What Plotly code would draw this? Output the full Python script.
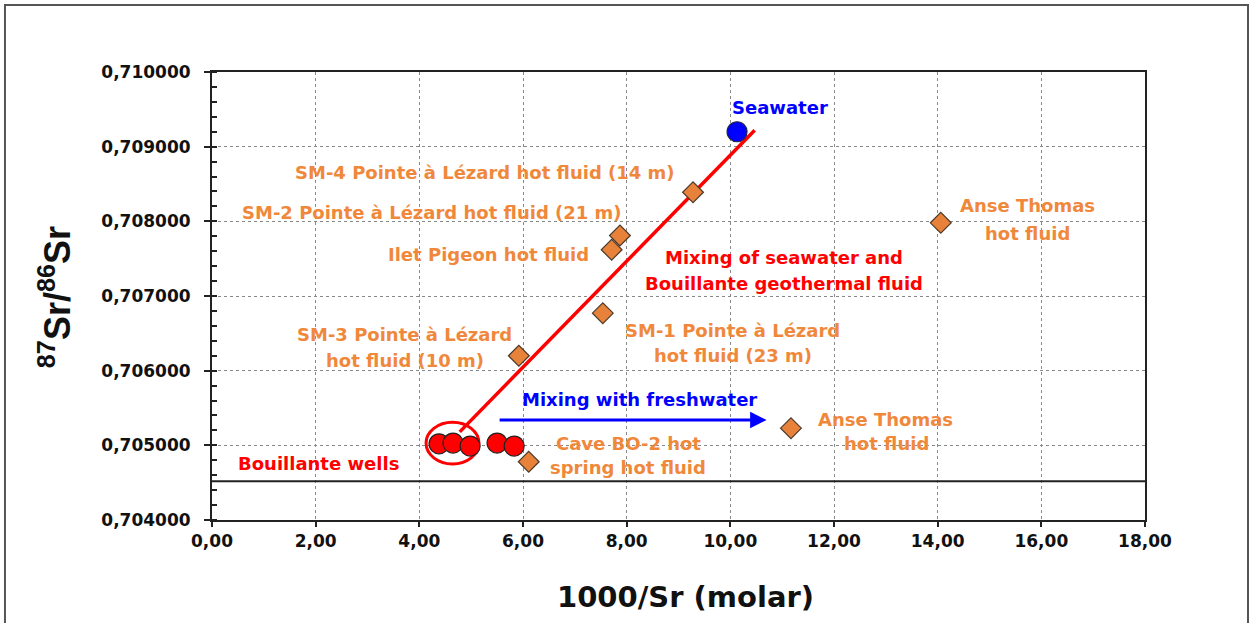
import plotly.graph_objects as go

# Bouillante geothermal wells
wells_x = [4.38, 4.65, 4.98, 5.50, 5.83]
wells_y = [0.70502, 0.70503, 0.70499, 0.70503, 0.70499]

# Seawater end-member
sea_x = [10.13]
sea_y = [0.70920]

# Hot springs / hot fluids
fluid_names = [
    "SM-4 Pointe à Lézard hot fluid (14 m)",
    "SM-2 Pointe à Lézard hot fluid (21 m)",
    "Ilet Pigeon hot fluid",
    "SM-3 Pointe à Lézard hot fluid (10 m)",
    "SM-1 Pointe à Lézard hot fluid (23 m)",
    "Anse Thomas hot fluid",
    "Anse Thomas hot fluid",
    "Cave BO-2 hot spring hot fluid",
]
fluid_x = [9.28, 7.87, 7.71, 5.92, 7.54, 14.06, 11.17, 6.11]
fluid_y = [0.70839, 0.70781, 0.70762, 0.70620, 0.70677, 0.70798, 0.70523, 0.70478]

# Mixing line seawater - geothermal fluid
mix_x = [4.78, 10.47]
mix_y = [0.70518, 0.70922]

# Freshwater mixing arrow
fresh_x = [5.52, 10.70]
fresh_y = [0.70534, 0.70534]

# Horizontal reference level
ref_level = 0.70452

x_ticks = [0, 2, 4, 6, 8, 10, 12, 14, 16, 18]
y_ticks = [0.704, 0.705, 0.706, 0.707, 0.708, 0.709, 0.710]

ORANGE_TXT = "#F0883C"
ORANGE_MK = "#E8823A"
LBL_FONT = "DejaVu Sans"

fig = go.Figure()

fig.add_trace(go.Scatter(
    x=fluid_x, y=fluid_y, mode="markers", text=fluid_names,
    marker=dict(symbol="diamond", size=16, color=ORANGE_MK,
                line=dict(color="#4a3a2a", width=1.2)),
    hoverinfo="text+x+y", showlegend=False))

fig.add_trace(go.Scatter(
    x=wells_x, y=wells_y, mode="markers",
    marker=dict(symbol="circle", size=20, color="#FF0000",
                line=dict(color="#222222", width=1.2)),
    showlegend=False))

fig.add_trace(go.Scatter(
    x=sea_x, y=sea_y, mode="markers",
    marker=dict(symbol="circle", size=20, color="#0000FF",
                line=dict(color="#222244", width=1.2)),
    showlegend=False))

shapes = [
    # mixing line
    dict(type="line", xref="x", yref="y", x0=mix_x[0], y0=mix_y[0],
         x1=mix_x[1], y1=mix_y[1], line=dict(color="#FF0000", width=3.5),
         layer="between"),
    # ring around the well cluster
    dict(type="circle", xref="x", yref="y", x0=4.13, x1=5.15,
         y0=0.70475, y1=0.70531, line=dict(color="#FF0000", width=3),
         layer="between"),
    # reference level
    dict(type="line", xref="x", yref="y", x0=-0.25, x1=18.13,
         y0=ref_level, y1=ref_level, line=dict(color="#222222", width=2),
         layer="between"),
    # outer frame
    dict(type="rect", xref="paper", yref="paper", x0=-0.2219, x1=1.1104,
         y0=-0.26, y1=1.1496, line=dict(color="#555555", width=2),
         layer="below"),
]

def lbl(text, x, y, color=ORANGE_TXT, size=18):
    return dict(text=text, x=x, y=y, xref="x", yref="y", showarrow=False,
                xanchor="center", yanchor="middle",
                font=dict(family=LBL_FONT, size=size, color=color, weight="bold"))

annotations = [
    lbl("Seawater", 10.96, 0.70952, color="#0000FF"),
    lbl("SM-4 Pointe à Lézard hot fluid (14 m)", 5.27, 0.70866),
    lbl("SM-2 Pointe à Lézard hot fluid (21 m)", 4.245, 0.70812),
    lbl("Ilet Pigeon hot fluid", 5.325, 0.70755),
    lbl("Mixing of seawater and", 11.04, 0.70752, color="#FF0000"),
    lbl("Bouillante geothermal fluid", 11.04, 0.70717, color="#FF0000"),
    lbl("SM-3 Pointe à Lézard", 3.72, 0.70649),
    lbl("hot fluid (10 m)", 3.72, 0.70614),
    lbl("SM-1 Pointe à Lézard", 10.05, 0.70654),
    lbl("hot fluid (23 m)", 10.05, 0.70620),
    lbl("Anse Thomas", 15.74, 0.70821),
    lbl("hot fluid", 15.74, 0.70784),
    lbl("Anse Thomas", 13.00, 0.70535),
    lbl("hot fluid", 13.02, 0.70502),
    lbl("Cave BO-2 hot", 8.04, 0.70503),
    lbl("spring hot fluid", 8.03, 0.70470),
    lbl("Mixing with freshwater", 8.24, 0.70561, color="#0000FF"),
    lbl("Bouillante wells", 2.06, 0.70476, color="#FF0000"),
    # freshwater arrow
    dict(x=fresh_x[1], y=fresh_y[1], ax=fresh_x[0], ay=fresh_y[0],
         xref="x", yref="y", axref="x", ayref="y", text="", showarrow=True,
         arrowhead=2, arrowsize=1.1, arrowwidth=3, arrowcolor="#0000FF"),
    # axis titles
    dict(text="1000/Sr (molar)", x=0.508, y=-0.172, xref="paper", yref="paper",
         showarrow=False, xanchor="center", yanchor="middle",
         font=dict(family=LBL_FONT, size=29, color="#111111", weight="bold")),
    dict(text="<sup>87</sup>Sr/<sup>86</sup>Sr", x=-0.168, y=0.498,
         xref="paper", yref="paper", showarrow=False, textangle=-90,
         xanchor="center", yanchor="middle",
         font=dict(family="Liberation Sans", size=36, color="#111111", weight="bold")),
]

fig.update_layout(
    width=1252, height=623,
    margin=dict(l=212, r=107, t=72, b=103),
    paper_bgcolor="white", plot_bgcolor="white",
    separators=", ",
    shapes=shapes, annotations=annotations,
    showlegend=False,
)

fig.update_xaxes(
    range=[0, 18], tickvals=x_ticks, tickformat=".2f",
    showgrid=True, gridcolor="#888888", griddash="dot", gridwidth=1,
    showline=True, linecolor="#222222", linewidth=2, mirror=True,
    ticks="outside", ticklen=5, tickcolor="#222222", tickwidth=1.5,
    tickfont=dict(family=LBL_FONT, size=17, color="#111111", weight="bold"),
    zeroline=False,
)
fig.update_yaxes(
    range=[0.704, 0.710], tickvals=y_ticks, tickformat=".6f",
    showgrid=True, gridcolor="#888888", griddash="dot", gridwidth=1,
    showline=True, linecolor="#222222", linewidth=2, mirror=True,
    ticks="outside", ticklen=6, tickcolor="#222222", tickwidth=1.5,
    minor=dict(dtick=0.0002, ticks="inside", ticklen=5, tickcolor="#222222",
               tickwidth=1.5, showgrid=False),
    tickfont=dict(family=LBL_FONT, size=17, color="#111111", weight="bold"),
    ticklabelstandoff=10,
    zeroline=False,
)

fig.write_html("out.html")
